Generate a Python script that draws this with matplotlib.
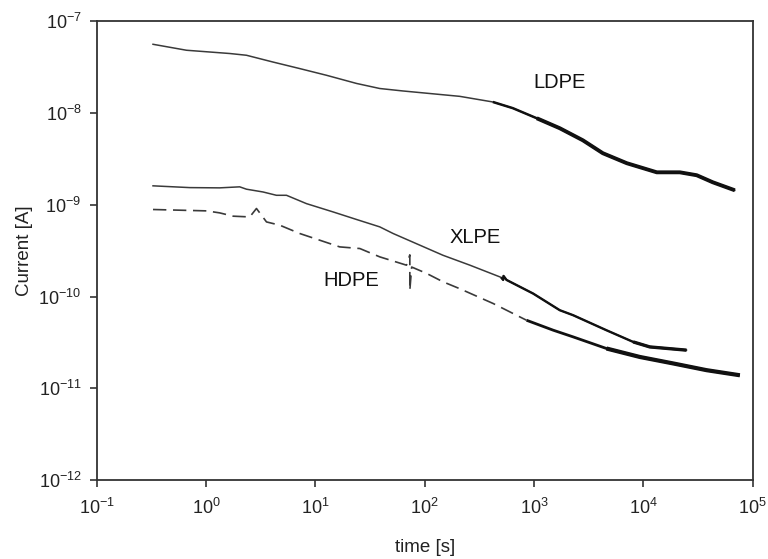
import numpy as np
import matplotlib
matplotlib.use("Agg")
import matplotlib.pyplot as plt
from matplotlib.ticker import NullLocator

plt.rcParams['font.family'] = ['Liberation Sans', 'DejaVu Sans']
plt.rcParams['mathtext.fontset'] = 'custom'
plt.rcParams['mathtext.rm'] = 'Liberation Sans'
plt.rcParams['mathtext.default'] = 'regular'

# Charging current vs. time for three polyethylenes
t_ldpe = [0.327, 0.662, 1.65, 2.34, 4.07, 7.19, 12.6, 23.8, 38.8, 63, 209, 420,
          640, 1060, 1720, 2795, 4260, 7060, 13280, 21560, 30800, 43200, 68700]
i_ldpe = [5.61e-8, 4.83e-8, 4.45e-8, 4.26e-8, 3.60e-8, 3.05e-8, 2.58e-8, 2.10e-8,
          1.85e-8, 1.74e-8, 1.52e-8, 1.32e-8, 1.13e-8, 8.77e-9, 6.83e-9, 5.05e-9,
          3.65e-9, 2.84e-9, 2.26e-9, 2.26e-9, 2.10e-9, 1.76e-9, 1.44e-9]

t_xlpe = [0.327, 0.709, 1.33, 2.03, 2.34, 3.32, 4.40, 5.44, 8.29, 14.5, 23.8, 38.8,
          51.4, 147, 259, 500, 522, 526, 560, 981, 1720, 2280, 4600, 8070, 11460, 24830]
i_xlpe = [1.61e-9, 1.54e-9, 1.53e-9, 1.57e-9, 1.48e-9, 1.38e-9, 1.27e-9, 1.27e-9,
          1.03e-9, 8.37e-10, 6.92e-10, 5.75e-10, 4.87e-10, 2.82e-10, 2.20e-10,
          1.62e-10, 1.52e-10, 1.68e-10, 1.52e-10, 1.08e-10, 7.11e-11, 6.27e-11,
          4.30e-11, 3.21e-11, 2.83e-11, 2.61e-11]

t_hdpe = [0.327, 1.01, 1.33, 1.77, 2.51, 2.89, 3.57, 4.72, 7.19, 11.0, 16.7, 25.5,
          38.8, 68.1, 73.1, 73.1, 76, 104, 147, 209, 423, 853, 1495, 2280, 4600,
          9290, 18750, 37840, 76400]
i_hdpe = [8.89e-10, 8.59e-10, 8.17e-10, 7.52e-10, 7.38e-10, 9.12e-10, 6.51e-10,
          6.00e-10, 4.87e-10, 4.11e-10, 3.48e-10, 3.34e-10, 2.71e-10, 2.20e-10,
          2.85e-10, 1.17e-10, 2.10e-10, 1.79e-10, 1.45e-10, 1.22e-10, 8.41e-11,
          5.53e-11, 4.31e-11, 3.64e-11, 2.72e-11, 2.20e-11, 1.87e-11, 1.58e-11,
          1.39e-11]

labels = ['LDPE', 'XLPE', 'HDPE']
label_t = [1720, 287, 21.1]
label_i = [2.17e-8, 4.43e-10, 1.51e-10]

x_ticks = [1e-1, 1e0, 1e1, 1e2, 1e3, 1e4, 1e5]
y_ticks = [1e-12, 1e-11, 1e-10, 1e-9, 1e-8, 1e-7]

fig = plt.figure(figsize=(7.68, 5.59), dpi=100)
ax = fig.add_axes([0.126, 0.141, 0.854, 0.821])

thin_col = '#3a3a3a'
dark_col = '#111111'


def heavier(t, i, start, lw):
    # noisy tail of a record drawn with a heavier stroke
    m = t >= start
    ax.plot(t[m], i[m], color=dark_col, lw=lw, solid_capstyle='butt',
            solid_joinstyle='round')


t, i = np.asarray(t_ldpe), np.asarray(i_ldpe)
ax.plot(t, i, color=thin_col, lw=1.1)
heavier(t, i, 420, 1.8)
heavier(t, i, 1060, 2.8)

t, i = np.asarray(t_xlpe), np.asarray(i_xlpe)
ax.plot(t, i, color=thin_col, lw=1.1)
heavier(t, i, 500, 1.7)
heavier(t, i, 8070, 2.4)

t, i = np.asarray(t_hdpe), np.asarray(i_hdpe)
m = t <= 853
ax.plot(t[m], i[m], color=thin_col, lw=1.2, dashes=(8, 4))
heavier(t, i, 853, 2.0)
heavier(t, i, 4600, 3.0)

ax.set_xscale('log')
ax.set_yscale('log')
ax.set_xlim(1e-1, 1e5)
ax.set_ylim(1e-12, 1e-7)
ax.set_xticks(x_ticks)
ax.set_yticks(y_ticks)
ax.xaxis.set_minor_locator(NullLocator())
ax.yaxis.set_minor_locator(NullLocator())

for s in ax.spines.values():
    s.set_linewidth(1.3)
    s.set_color('#333333')
ax.tick_params(axis='both', which='major', direction='out', length=5,
               width=1.2, color='#333333', labelsize=13,
               labelcolor='#222222')
ax.tick_params(axis='x', pad=8)
ax.tick_params(axis='y', pad=6)

ax.set_xlabel('time [s]', fontsize=13.5, color='#222222', labelpad=15)
ax.set_ylabel('Current [A]', fontsize=13.5, color='#222222', labelpad=4)

for name, lt, li in zip(labels, label_t, label_i):
    ax.text(lt, li, name, fontsize=14.5, ha='center', va='center', color=dark_col)

fig.savefig('out.png', dpi=100)
